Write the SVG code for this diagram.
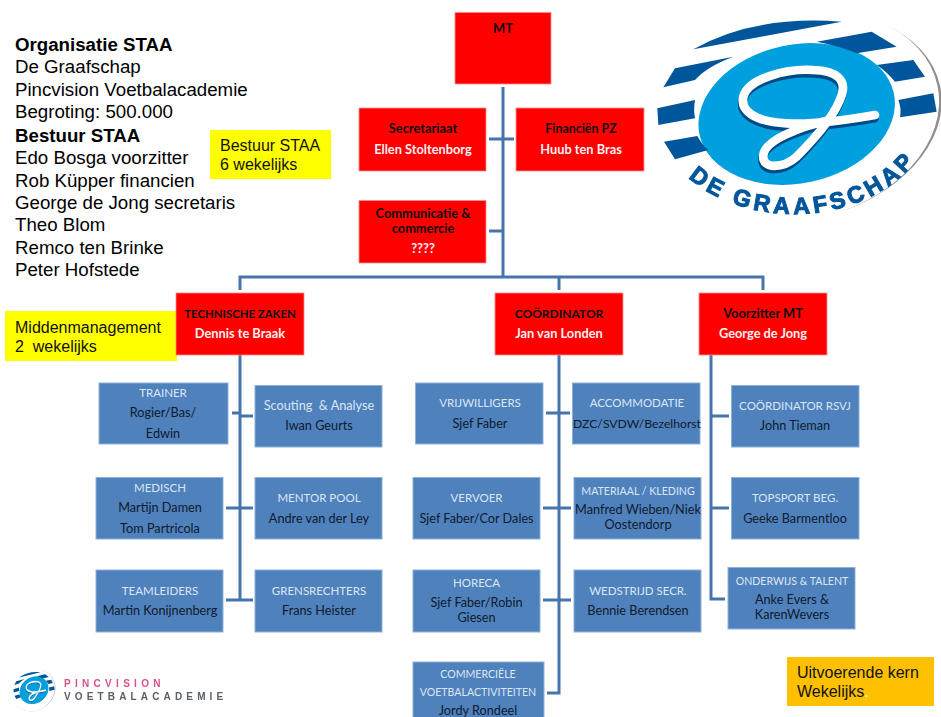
<svg xmlns="http://www.w3.org/2000/svg" width="941" height="717" viewBox="0 0 941 717">
<defs>
<style>
text{font-family:"Lato","Carlito","Open Sans",sans-serif;font-size:12.7px;text-anchor:middle}
.r{fill:#ff0000;stroke:#ff8f8f;stroke-width:.8}
.b{fill:#4f81bd;stroke:#8fb0d8;stroke-width:1}
.k{fill:#0d0d0d;font-weight:700;font-size:12.8px}
.w{fill:#fff0f0;font-weight:700;font-size:12.8px}
.l{fill:#dbe6f3}
.c{font-size:11.5px}
.c2{font-size:10.6px}
.d{fill:#0f1b2d}
.n{fill:none;stroke:#4674ad;stroke-width:3}
.t{font-family:"Liberation Sans",Arial,sans-serif;font-size:18.7px;fill:#000;text-anchor:start}
.y{font-family:"Liberation Sans",Arial,sans-serif;font-size:16px;fill:#111;text-anchor:start}
.s{fill:#00569b}
</style>
<filter id="soft" x="-5%" y="-5%" width="110%" height="110%"><feGaussianBlur stdDeviation="0.45"/></filter>
<filter id="soft2" x="-5%" y="-5%" width="110%" height="110%"><feGaussianBlur stdDeviation="0.35"/></filter>
<path id="arc" d="M143,530 C320,695 735,700 885,395"/>
<g id="mark">
  <ellipse cx="470" cy="350" rx="440" ry="310" transform="rotate(-12 470 350)" fill="#8f8f8f"/>
  <ellipse cx="460" cy="348" rx="442" ry="316" transform="rotate(-12 460 348)" fill="#ffffff"/>
  <ellipse cx="470" cy="342" rx="298" ry="208" transform="rotate(-12 470 342)" fill="#00a0df"/>
  <path class="s" d="M160,148Q340,45 605,65Z"/>
  <path class="s" d="M530,125L695,95L770,140L650,160Q600,138 530,125Z"/>
  <path class="s" d="M70,262L105,205L280,170Q200,200 165,240Z"/>
  <path class="s" d="M710,195L820,180L855,230L765,245Q740,215 710,195Z"/>
  <path class="s" d="M52,325L165,300Q160,330 165,355L55,375Z"/>
  <path class="s" d="M775,300L880,280L890,335L780,352Q785,325 775,300Z"/>
  <path class="s" d="M72,425L172,408Q190,440 205,450L105,478Z"/>
  <g fill="none" stroke-linecap="round" stroke-linejoin="round">
    <path d="M705,345C620,360 520,375 440,370C340,365 300,330 310,290C325,235 440,205 520,210C590,212 620,240 605,285C585,350 520,420 470,470C430,505 365,510 370,465C375,420 480,380 570,360" stroke="#004a86" stroke-width="26" transform="translate(-2,10)"/>
    <path d="M705,345C620,360 520,375 440,370C340,365 300,330 310,290C325,235 440,205 520,210C590,212 620,240 605,285C585,350 520,420 470,470C430,505 365,510 370,465C375,420 480,380 570,360" stroke="#ffffff" stroke-width="26"/>
  </g>
</g>
</defs>
<rect width="941" height="717" fill="#fff"/>

<g id="connectors">
<path class="n" d="M503,87V277M489,139H514M489,231H503M240,290V277H763V290M559,277V290"/>
<path class="n" d="M240,355V600M232,413H240M240,416H253M226,508H253M226,600H253"/>
<path class="n" d="M559,355V693H547M546,413H570M543,508H571M543,600H571"/>
<path class="n" d="M711,355V599H725M711,416H729M711,508H729"/>
</g>

<g id="intro">
<text class="t" x="15" y="51" style="font-weight:700">Organisatie STAA</text>
<text class="t" x="15" y="73">De Graafschap</text>
<text class="t" x="15" y="96">Pincvision Voetbalacademie</text>
<text class="t" x="15" y="118">Begroting: 500.000</text>
<text class="t" x="15" y="142" style="font-weight:700">Bestuur STAA</text>
<text class="t" x="15" y="164">Edo Bosga voorzitter</text>
<text class="t" x="15" y="187">Rob Küpper financien</text>
<text class="t" x="15" y="209">George de Jong secretaris</text>
<text class="t" x="15" y="231">Theo Blom</text>
<text class="t" x="15" y="254">Remco ten Brinke</text>
<text class="t" x="15" y="276">Peter Hofstede</text>
</g>

<g id="note-bestuur"><rect x="210" y="130" width="121" height="49" fill="#ffff00"/><text class="y" x="220" y="151">Bestuur STAA</text><text class="y" x="220" y="170">6 wekelijks</text></g>
<g id="note-midden"><rect x="5" y="311" width="172" height="50" fill="#ffff00"/><text class="y" x="15" y="333">Middenmanagement</text><text class="y" x="15" y="352">2&#160; wekelijks</text></g>
<g id="note-kern"><rect x="787" y="657" width="147" height="49" fill="#ffc000"/><text class="y" x="797" y="678">Uitvoerende kern</text><text class="y" x="797" y="697">Wekelijks<tspan fill="#fff">.</tspan></text></g>

<g id="mt"><rect class="r" x="455" y="12.500" width="96" height="71.500"/><text class="k" x="503" y="33">MT</text></g>
<g id="secretariaat"><rect class="r" x="359" y="108" width="127" height="63"/><text class="k" x="423" y="133">Secretariaat</text><text class="w" x="423" y="154">Ellen Stoltenborg</text></g>
<g id="financien"><rect class="r" x="516" y="108" width="128" height="63"/><text class="k" x="581" y="133" style="font-size:12.4px">Financiën PZ</text><text class="w" x="581" y="154">Huub ten Bras</text></g>
<g id="communicatie"><rect class="r" x="359" y="200.500" width="127" height="62.500"/><text class="k" x="423" y="218">Communicatie &amp;</text><text class="k" x="423" y="233">commercie</text><text class="w" x="423" y="253">????</text></g>

<g id="technische"><rect class="r" x="176" y="293" width="128" height="62"/><text class="k" x="240" y="318" style="font-size:11.4px">TECHNISCHE ZAKEN</text><text class="w" x="240" y="338">Dennis te Braak</text></g>
<g id="coordinator"><rect class="r" x="495" y="293" width="128" height="62"/><text class="k" x="559" y="318" style="font-size:12px">COÖRDINATOR</text><text class="w" x="559" y="338">Jan van Londen</text></g>
<g id="voorzitter"><rect class="r" x="699" y="293" width="128" height="62"/><text class="k" x="763" y="318">Voorzitter MT</text><text class="w" x="763" y="338">George de Jong</text></g>

<g id="trainer"><rect class="b" x="99" y="383" width="129" height="61"/><text class="l c" x="163" y="397">TRAINER</text><text class="d" x="163" y="417">Rogier/Bas/</text><text class="d" x="163" y="438">Edwin</text></g>
<g id="scouting"><rect class="b" x="255" y="385.500" width="127" height="61.500"/><text class="l" x="319" y="410">Scouting&#160; &amp; Analyse</text><text class="d" x="319" y="430">Iwan Geurts</text></g>
<g id="medisch"><rect class="b" x="96" y="477.500" width="127" height="61.500"/><text class="l c" x="160" y="492">MEDISCH</text><text class="d" x="160" y="512">Martijn Damen</text><text class="d" x="160" y="533">Tom Partricola</text></g>
<g id="mentor"><rect class="b" x="255" y="477.500" width="127" height="61.500"/><text class="l c" x="319" y="502">MENTOR POOL</text><text class="d" x="319" y="523">Andre van der Ley</text></g>
<g id="teamleiders"><rect class="b" x="96" y="570" width="127" height="62"/><text class="l c" x="160" y="595">TEAMLEIDERS</text><text class="d" x="160" y="615">Martin Konijnenberg</text></g>
<g id="grensrechters"><rect class="b" x="255" y="570" width="127" height="62"/><text class="l c" x="319" y="595">GRENSRECHTERS</text><text class="d" x="319" y="615">Frans Heister</text></g>

<g id="vrijwilligers"><rect class="b" x="415.500" y="383" width="127.500" height="61"/><text class="l c" x="480" y="407">VRIJWILLIGERS</text><text class="d" x="480" y="428">Sjef Faber</text></g>
<g id="accommodatie"><rect class="b" x="572.500" y="383" width="127.500" height="61"/><text class="l c" x="637" y="407">ACCOMMODATIE</text><text class="d" x="637" y="428" style="font-size:12.2px">DZC/SVDW/Bezelhorst</text></g>
<g id="vervoer"><rect class="b" x="413" y="477.500" width="127" height="61.500"/><text class="l c" x="476.500" y="502">VERVOER</text><text class="d" x="476.500" y="523">Sjef Faber/Cor Dales</text></g>
<g id="materiaal"><rect class="b" x="574" y="477.500" width="127" height="61.500"/><text class="l c2" x="638" y="495">MATERIAAL / KLEDING</text><text class="d" x="638" y="514">Manfred Wieben/Niek</text><text class="d" x="638" y="529">Oostendorp</text></g>
<g id="horeca"><rect class="b" x="413" y="570" width="127" height="62"/><text class="l c" x="476.500" y="587">HORECA</text><text class="d" x="476.500" y="607">Sjef Faber/Robin</text><text class="d" x="476.500" y="622">Giesen</text></g>
<g id="wedstrijd"><rect class="b" x="574" y="570" width="127" height="62"/><text class="l c" x="638" y="595">WEDSTRIJD SECR.</text><text class="d" x="638" y="615">Bennie Berendsen</text></g>
<g id="commerciele"><rect class="b" x="413" y="662" width="131" height="56"/><text class="l c2" x="478" y="678">COMMERCIËLE</text><text class="l c2" x="478" y="696">VOETBALACTIVITEITEN</text><text class="d" x="478" y="715">Jordy Rondeel</text></g>

<g id="coordinator-rsvj"><rect class="b" x="731.500" y="385.500" width="127.500" height="61.500"/><text class="l c" x="795" y="410">COÖRDINATOR RSVJ</text><text class="d" x="795" y="430">John Tieman</text></g>
<g id="topsport"><rect class="b" x="731.500" y="477.500" width="127.500" height="61.500"/><text class="l c" x="795" y="502">TOPSPORT BEG.</text><text class="d" x="795" y="523">Geeke Barmentloo</text></g>
<g id="onderwijs"><rect class="b" x="728" y="567.500" width="127" height="61.500"/><text class="l c2" x="792" y="585">ONDERWIJS &amp; TALENT</text><text class="d" x="792" y="604">Anke Evers &amp;</text><text class="d" x="792" y="619">KarenWevers</text></g>

<g id="logo-graafschap" transform="translate(640,0) scale(.33333)" filter="url(#soft)">
  <use href="#mark"/>
  <text style="font-family:'Liberation Sans',Arial,sans-serif;font-weight:700;font-size:70px;letter-spacing:11.500px;text-anchor:start" fill="#00569b" stroke="#00569b" stroke-width="3"><textPath href="#arc" startOffset="3">DE GRAAFSCHAP</textPath></text>
</g>

<g id="logo-pincvision">
  <g transform="translate(11,668) scale(.049,.065)" filter="url(#soft2)"><use href="#mark"/></g>
  <g filter="url(#soft2)">
  <text x="64" y="687" style="font-family:'Liberation Sans',Arial,sans-serif;font-weight:700;font-size:10px;letter-spacing:4.300px;text-anchor:start" fill="#d8508f">PINCVISION</text>
  <text x="64" y="700" style="font-family:'Liberation Sans',Arial,sans-serif;font-weight:700;font-size:10px;letter-spacing:4.150px;text-anchor:start" fill="#5a6068">VOETBALACADEMIE</text>
  </g>
</g>
</svg>
